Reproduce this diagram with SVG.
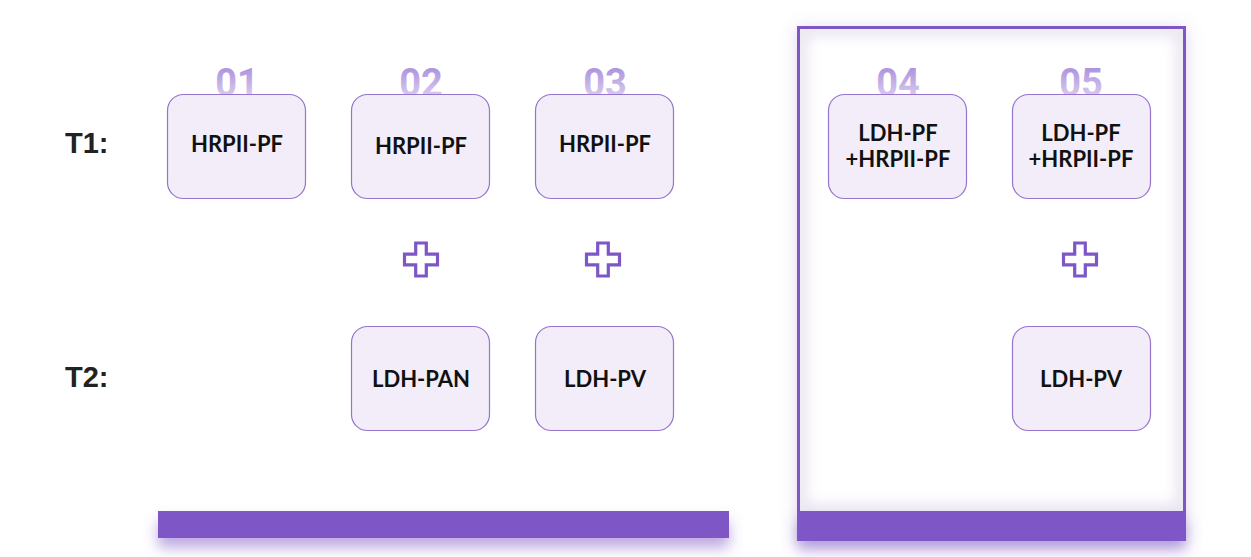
<svg xmlns="http://www.w3.org/2000/svg" width="1251" height="557" viewBox="0 0 1251 557">
<defs>
<linearGradient id="numg" x1="0" y1="0" x2="0" y2="1">
<stop offset="0" stop-color="#A286D9"/>
<stop offset="1" stop-color="#E6DDF5"/>
</linearGradient>
<filter id="barsh" x="-10%" y="-100%" width="120%" height="300%">
<feDropShadow dx="0" dy="10" stdDeviation="7" flood-color="#7E57C6" flood-opacity="0.5"/>
</filter>
<filter id="panelsh" x="-10%" y="-10%" width="120%" height="120%">
<feDropShadow dx="0" dy="2" stdDeviation="8" flood-color="#8a76b8" flood-opacity="0.3"/>
</filter>
<filter id="blur" x="-10%" y="-10%" width="120%" height="120%">
<feGaussianBlur stdDeviation="7"/>
</filter>
<clipPath id="inner"><rect x="800" y="29" width="383" height="482"/></clipPath>
<g id="plus"><path d="M-5.3,-16.5 H5.3 V-5.3 H16.5 V5.3 H5.3 V16.5 H-5.3 V5.3 H-16.5 V-5.3 H-5.3 Z" fill="none" stroke="#7E57C6" stroke-width="3.2"/></g>
</defs>
<style>
.box{fill:#F3EDF9;stroke:#9575CD;stroke-width:1.2}
.lbl{font-family:Lato,"Open Sans",sans-serif;font-weight:700;font-size:22px;fill:#111;text-anchor:middle}
.num{font-family:Roboto,"Liberation Sans",sans-serif;font-weight:700;font-size:38px;fill:url(#numg);text-anchor:middle}
.row{font-family:"Liberation Sans",Arial,sans-serif;font-weight:700;font-size:29px;fill:#222}
</style>
<rect width="1251" height="557" fill="#ffffff"/>

<g id="panel">
<rect x="798.5" y="27.5" width="386" height="512" fill="#ffffff" stroke="#7E57C6" stroke-width="3" filter="url(#panelsh)"/>
<g clip-path="url(#inner)">
<rect x="800" y="29" width="383" height="482" fill="none" stroke="#d6cfe3" stroke-width="14" opacity="0.55" filter="url(#blur)"/>
</g>
<rect x="797" y="511" width="389" height="29" fill="#7E57C6" filter="url(#barsh)"/>
</g>
<g id="bar-left">
<rect x="158" y="511" width="571" height="27" fill="#7E57C6" filter="url(#barsh)"/>
</g>

<g id="row-labels">
<text class="row" x="65" y="153">T1:</text>
<text class="row" x="65" y="387">T2:</text>
</g>

<g id="node01">
<text class="num" x="237" y="96">01</text>
<rect class="box" x="167.5" y="94.5" width="138" height="104" rx="16"/>
<text class="lbl" x="237" y="152">HRPII-PF</text>
</g>
<g id="node02">
<text class="num" x="421" y="96">02</text>
<rect class="box" x="351.5" y="94.5" width="138" height="104" rx="16"/>
<text class="lbl" x="421" y="154">HRPII-PF</text>
</g>
<g id="node03">
<text class="num" x="605" y="96">03</text>
<rect class="box" x="535.5" y="94.5" width="138" height="104" rx="16"/>
<text class="lbl" x="605" y="152">HRPII-PF</text>
</g>
<g id="node04">
<text class="num" x="898" y="96">04</text>
<rect class="box" x="828.5" y="94.5" width="138" height="104" rx="16"/>
<text class="lbl" x="898" y="141">LDH-PF</text>
<text class="lbl" x="898" y="167">+HRPII-PF</text>
</g>
<g id="node05">
<text class="num" x="1081" y="96">05</text>
<rect class="box" x="1012.5" y="94.5" width="138" height="104" rx="16"/>
<text class="lbl" x="1081" y="141">LDH-PF</text>
<text class="lbl" x="1081" y="167">+HRPII-PF</text>
</g>
<g id="node02b">
<rect class="box" x="351.5" y="326.5" width="138" height="104" rx="16"/>
<text class="lbl" x="421" y="387">LDH-PAN</text>
</g>
<g id="node03b">
<rect class="box" x="535.5" y="326.5" width="138" height="104" rx="16"/>
<text class="lbl" x="605" y="387">LDH-PV</text>
</g>
<g id="node05b">
<rect class="box" x="1012.5" y="326.5" width="138" height="104" rx="16"/>
<text class="lbl" x="1081" y="387">LDH-PV</text>
</g>

<g id="connectors">
<use href="#plus" x="421" y="259.5"/>
<use href="#plus" x="603" y="259.5"/>
<use href="#plus" x="1080" y="259.5"/>
</g>
</svg>
